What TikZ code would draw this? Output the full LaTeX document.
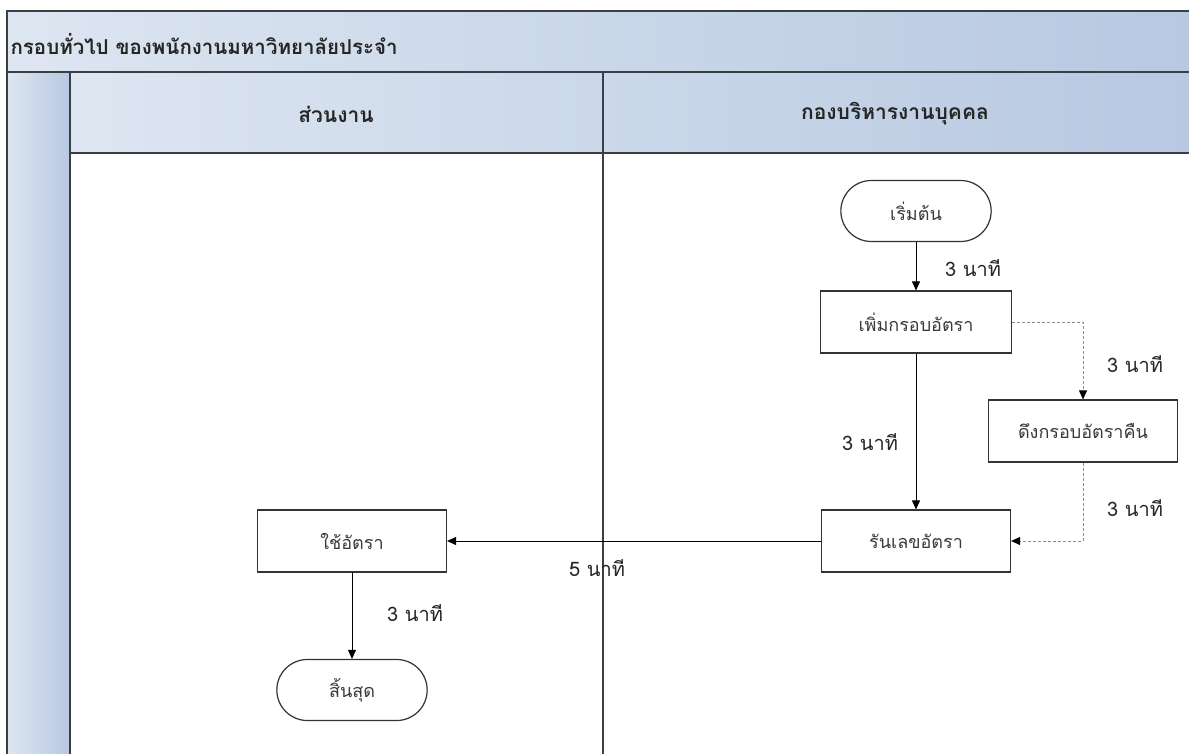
\documentclass[tikz,border=0pt]{standalone}
\usepackage{fontspec}
\newfontfamily\thai[Script=Thai]{Loma}
\usetikzlibrary{arrows.meta, shapes.misc}
\definecolor{hdrL}{HTML}{DDE6F1}
\definecolor{hdrR}{HTML}{B7C8E1}
\definecolor{frameC}{HTML}{3A3F46}
\definecolor{txtC}{HTML}{3A3A3A}
\tikzset{
  frame/.style={draw=frameC, line width=1.8pt},
  procbox/.style={draw=black!80, line width=1.2pt, fill=white, minimum width=189pt, minimum height=62pt, font=\thai\fontsize{18}{21}\selectfont, text=txtC},
  termbox/.style={draw=black!80, line width=1.2pt, fill=white, rounded rectangle, minimum width=157pt, minimum height=61pt, font=\thai\fontsize{18}{21}\selectfont, text=txtC},
  arr/.style={draw=black, line width=1pt, -{Triangle[length=9pt, width=8pt]}},
  darr/.style={draw=black!45, line width=0.9pt, dash pattern=on 3pt off 2pt, -{Triangle[length=9pt, width=8pt, color=black, fill=black]}},
  lbl/.style={font=\thai\fontsize{20}{22}\selectfont, text=black!85},
  hdr/.style={font=\thai\bfseries\fontsize{21}{24}\selectfont, text=black!85},
}
\begin{document}
\begin{tikzpicture}[x=1pt, y=-1pt]
\useasboundingbox (0,0) rectangle (1189,754);
\clip (0,0) rectangle (1189,754);
\fill[white] (0,0) rectangle (1189,754);
% bands
\path[left color=hdrL, right color=hdrR] (7,11) rectangle (1195,72);
\path[left color=hdrL, right color=hdrR] (7,72) rectangle (70,760);
\path[left color=hdrL, right color=hdrR] (70,72) rectangle (1195,153);
% frame lines
\draw[frame] (7,11) rectangle (1195,760);
\draw[frame] (7,72) -- (1195,72);
\draw[frame] (70,72) -- (70,760);
\draw[frame] (70,153) -- (1195,153);
\draw[frame] (603,72) -- (603,760);
% titles
\node[anchor=west, hdr, font=\thai\bfseries\fontsize{20.5}{24}\selectfont] (title) at (7,44) {กรอบทั่วไป ของพนักงานมหาวิทยาลัยประจำ};
\node[hdr] (lane1) at (336,114) {ส่วนงาน};
\node[hdr] (lane2) at (895,114) {กองบริหารงานบุคคล};
% nodes
\node[termbox] (start) at (916,211) {เริ่มต้น};
\node[procbox, minimum width=191pt] (add) at (916,322) {เพิ่มกรอบอัตรา};
\node[procbox] (pull) at (1083,431) {ดึงกรอบอัตราคืน};
\node[procbox] (run) at (916,541) {รันเลขอัตรา};
\node[procbox] (use) at (352,541) {ใช้อัตรา};
\node[termbox] (end) at (352,690) {สิ้นสุด};
% connectors
\draw[arr] (start.south) -- (add.north);
\draw[arr] (add.south) -- (run.north);
\draw[darr] (add.east) -| (pull.north);
\draw[darr] (pull.south) |- (run.east);
\draw[arr] (run.west) -- (use.east);
\draw[arr] (use.south) -- (end.north);
% labels
\node[lbl] (l1) at (973,268) {3 นาที};
\node[lbl] (l2) at (870,442) {3 นาที};
\node[lbl] (l3) at (1135,364) {3 นาที};
\node[lbl] (l4) at (1135,508) {3 นาที};
\node[lbl] (l5) at (597,568) {5 นาที};
\node[lbl] (l6) at (415,613) {3 นาที};
\end{tikzpicture}
\end{document}
